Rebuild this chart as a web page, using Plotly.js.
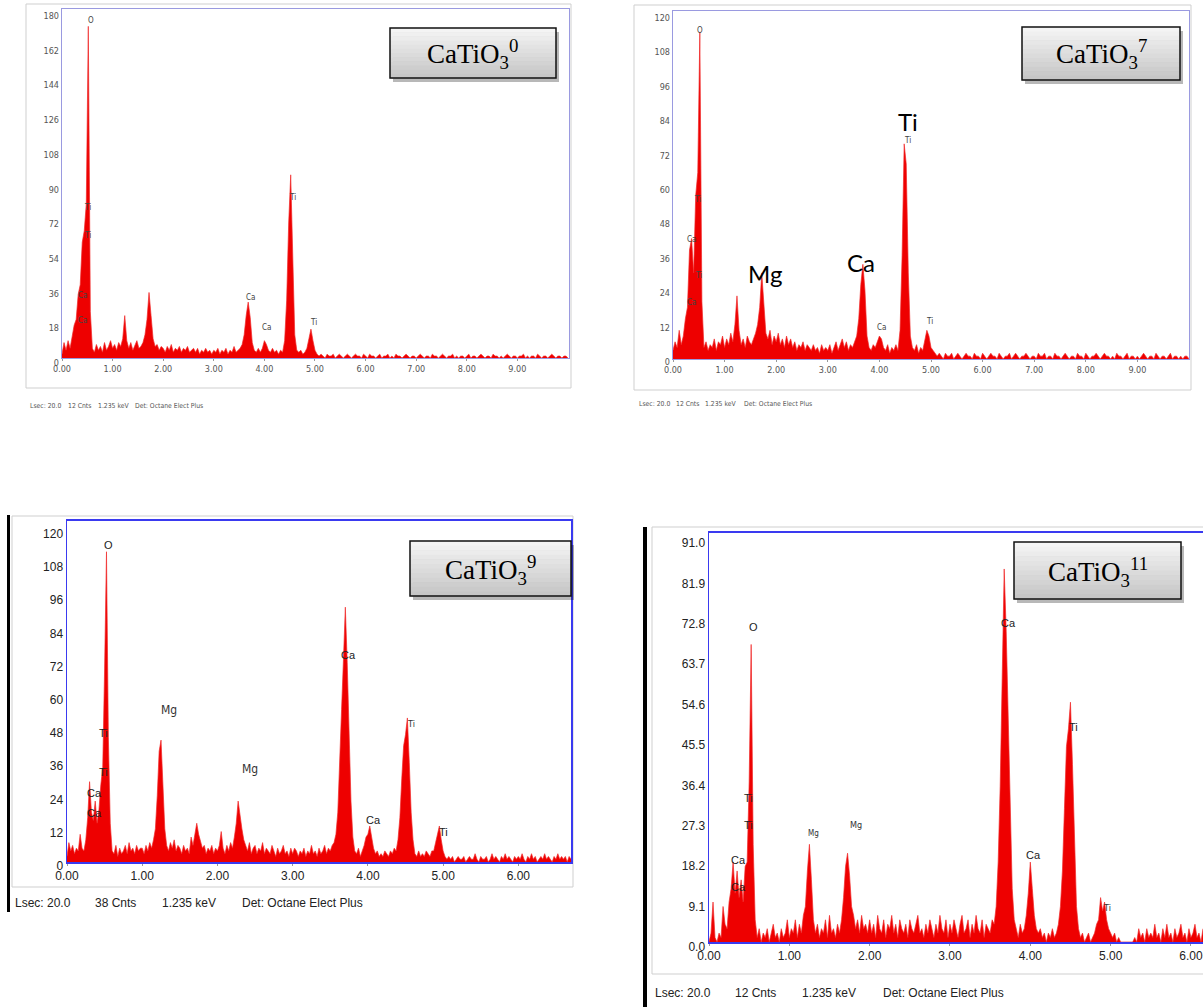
<!DOCTYPE html>
<html><head><meta charset="utf-8">
<script src="https://cdn.plot.ly/plotly-3.0.1.min.js"></script>
<style>html,body{margin:0;padding:0;background:#fff;}#chart{width:1203px;height:1007px;}</style>
</head><body><div id="chart"></div>
<script>
// ---------------- DATA (counts) ----------------
const binTop = 0.04;      // keV per channel, top spectra
const binBottom = 0.025;  // keV per channel, bottom spectra

const counts0 = [
 2,8,4,9,5,11,17,20,33,38,60,66,80,172,24,5,3,7,4,6,3,8,4,6,9,
 5,7,4,8,6,10,22,9,5,8,4,7,9,5,6,8,12,20,34,22,10,6,7,4,6,
 5,3,6,4,7,3,5,4,6,3,5,4,6,3,4,5,3,5,2,4,3,5,3,4,2,
 4,3,5,2,4,3,5,2,4,3,6,3,4,5,7,12,22,29,21,8,4,3,5,3,5,
 9,7,4,3,5,3,4,2,4,3,9,30,70,95,55,12,4,3,4,2,3,5,10,15,9,
 4,2,1,2,1,0,2,1,1,2,0,1,2,1,0,1,2,1,0,1,2,1,1,0,2,
 1,0,2,1,1,0,1,2,0,1,1,2,0,1,0,2,1,1,0,1,2,1,0,1,1,
 0,1,2,1,0,1,1,0,2,1,1,0,1,2,1,0,1,1,2,0,1,0,1,1,0,
 1,2,0,1,1,0,1,2,1,0,1,1,0,2,1,1,0,1,0,1,2,1,0,1,1,
 0,1,1,2,0,1,0,1,1,0,2,1,0,1,1,0,1,2,1,0,1,1,0,1,1,0
];
const counts7 = [
 3,6,4,10,5,8,14,18,38,42,30,57,65,114,20,4,6,3,5,4,7,3,6,5,8,
 4,7,5,9,6,12,22,10,5,7,4,8,6,5,7,9,12,18,30,20,9,7,10,5,8,
 6,9,5,7,4,8,5,7,4,6,3,5,4,6,3,5,4,3,5,3,4,2,5,3,4,
 3,5,2,4,6,3,5,7,4,6,3,5,4,6,8,14,26,33,24,8,4,3,5,4,6,
 8,7,4,3,5,2,4,3,5,3,10,36,75,68,30,8,4,3,5,2,4,3,6,10,8,
 4,3,2,1,2,1,0,2,1,1,2,0,1,2,1,0,1,2,1,1,0,2,1,1,0,
 2,1,0,1,2,1,1,0,2,1,0,1,1,2,0,1,2,1,0,1,1,2,1,0,1,
 1,0,2,1,1,2,0,1,1,0,2,1,1,0,1,2,1,0,1,1,0,2,1,1,0,
 2,1,0,1,1,2,1,0,1,2,1,1,0,1,0,2,1,1,0,1,2,0,1,1,0,
 1,0,1,2,1,0,1,1,0,2,1,0,1,1,0,1,2,0,1,1,0,1,0,1,1,0
];
const counts9 = [
 2,7,4,6,3,5,4,10,5,4, 8,16,29,18,15,22,14,19,28,34, 70,112,45,14,4,3,6,2,5,3, 4,6,3,7,4,5,3,6,4,5,
 5,3,6,4,7,5,8,12,24,40, 44,28,12,6,4,7,5,8,4,6, 5,3,6,4,5,3,9,6,11,14, 10,7,5,6,3,5,4,6,3,5,
 4,6,11,5,3,6,4,7,5,9, 14,22,16,12,8,6,4,7,3,5, 6,3,5,4,7,3,5,4,3,6, 4,2,5,3,4,6,3,4,2,5,
 3,5,4,2,4,3,5,2,4,3, 6,3,4,2,5,3,4,6,3,5, 4,6,7,10,18,34,55,73,92,72, 45,22,9,4,3,5,2,4,6,9,
 10,13,9,5,3,4,2,3,2,4, 3,2,4,3,5,4,8,16,30,42, 46,52,36,18,8,3,2,4,2,3, 2,4,3,2,4,4,7,10,13,8,
 4,2,1,2,1,2,0,1,2,1, 1,2,0,1,2,1,1,3,1,0, 2,1,1,2,0,1,3,1,2,1, 0,2,1,3,1,2,1,0,2,1,
 2,1,3,1,0,2,1,3,1,2, 0,1,2,1,3,1,2,1,0,2, 1,3,1,2,1,2,0,2,1
];
const counts11 = [
 0,2,9,1,0,2,1,8,4,3, 9,12,18,11,16,10,14,9,17,18, 36,67,22,5,1,3,0,2,1,3, 0,2,4,1,2,0,3,1,2,5,
 1,3,2,5,1,4,2,6,8,16, 22,14,5,2,4,1,3,2,5,1, 6,2,3,1,4,2,5,10,17,20, 15,8,6,3,5,2,6,3,4,2,
 5,2,4,1,6,3,2,5,1,4, 3,6,2,4,1,5,3,2,4,1, 5,3,2,4,6,2,3,1,4,2, 5,3,1,4,2,6,3,2,5,1,
 4,2,5,3,1,4,6,2,3,5, 1,4,2,6,3,2,5,1,4,3, 2,5,4,8,18,35,58,84,70,52, 30,12,5,3,1,4,2,3,6,11,
 18,12,6,3,2,3,1,2,0,2, 1,3,1,2,4,8,16,30,44,48, 54,40,22,8,3,1,2,0,1,2, 0,1,2,4,5,10,7,9,5,3,
 2,1,2,0,1,0,0,0,0,0, 0,0,1,0,3,1,2,0,3,1, 2,1,4,1,2,0,3,1,4,1, 2,0,3,1,2,4,1,2,0,3,
 1,2,4,1,2,0,3
];

const xTicksTop = [0,1,2,3,4,5,6,7,8,9];
const xTickTextTop = ['0.00','1.00','2.00','3.00','4.00','5.00','6.00','7.00','8.00','9.00'];
const xTicksBottom = [0,1,2,3,4,5,6];
const xTickTextBottom = ['0.00','1.00','2.00','3.00','4.00','5.00','6.00'];
const yTicks0 = [0,18,36,54,72,90,108,126,144,162,180];
const yTicks7 = [0,12,24,36,48,60,72,84,96,108,120];
const yTicks9 = [0,12,24,36,48,60,72,84,96,108,120];
const yTicks11 = [0,9.1,18.2,27.3,36.4,45.5,54.6,63.7,72.8,81.9,91.0];
const yTickText11 = ['0.0','9.1','18.2','27.3','36.4','45.5','54.6','63.7','72.8','81.9','91.0'];
const sampleSup = ['0','7','9','11'];
const footerCnts = ['12 Cnts','12 Cnts','38 Cnts','12 Cnts'];

// ---------------- LAYOUT HELPERS ----------------
const W = 1203, H = 1007;
const fx = x => x / W;
const fy = y => 1 - y / H;
const energies = (arr, step) => arr.map((_, i) => +(i * step).toFixed(3));

const red = 'rgb(238,0,0)';
function trace(counts, step, xa, ya) {
  return {x: energies(counts, step), y: counts, xaxis: xa, yaxis: ya, type: 'scatter', mode: 'lines',
    fill: 'tozeroy', fillcolor: red, line: {color: 'rgba(240,40,40,0.85)', width: 0.8}, hoverinfo: 'skip'};
}
const data = [
  trace(counts0, binTop, 'x', 'y'),
  trace(counts7, binTop, 'x2', 'y2'),
  trace(counts9, binBottom, 'x3', 'y3'),
  trace(counts11, binBottom, 'x4', 'y4')
];

const smallFont = {family: 'Liberation Sans Narrow, DejaVu Sans Condensed, sans-serif', size: 9, color: '#555'};
const bigFont = {family: 'Liberation Sans, Arial, sans-serif', size: 12, color: '#222'};
const topLine = '#9a9ae0', botLine = '#3a3af0';

function xax(domain, range, vals, text, font, lc, lw) {
  return {domain, range, tickvals: vals, ticktext: text, tickfont: font, showgrid: false, zeroline: false,
    showline: true, mirror: true, linecolor: lc, linewidth: lw, ticks: 'outside', ticklen: 2, tickcolor: '#999', fixedrange: true};
}
function yax(domain, range, vals, text, font, lc, lw, shift) {
  return {domain, range, tickvals: vals, ticktext: text, tickfont: font, showgrid: false, zeroline: false,
    showline: true, mirror: true, linecolor: lc, linewidth: lw, ticks: '', ticklabelshift: shift, fixedrange: true};
}

const layout = {
  width: W, height: H, margin: {l: 0, r: 0, t: 0, b: 0}, showlegend: false,
  paper_bgcolor: '#fff', plot_bgcolor: '#fff',
  xaxis: Object.assign(xax([fx(62), fx(569)], [0, 10.02], xTicksTop, xTickTextTop, smallFont, topLine, 1.2), {anchor: 'y'}),
  yaxis: Object.assign(yax([fy(358), fy(9)], [0, 181], yTicks0, yTicks0.map(String), smallFont, topLine, 1.2, 5), {anchor: 'x'}),
  xaxis2: Object.assign(xax([fx(673), fx(1189)], [0, 10.0], xTicksTop, xTickTextTop, smallFont, topLine, 1.2), {anchor: 'y2'}),
  yaxis2: Object.assign(yax([fy(359), fy(11)], [0, 121.3], yTicks7, yTicks7.map(String), smallFont, topLine, 1.2, 3), {anchor: 'x2'}),
  xaxis3: Object.assign(xax([fx(67), fx(571)], [0, 6.70], xTicksBottom, xTickTextBottom, bigFont, botLine, 2), {anchor: 'y3'}),
  yaxis3: Object.assign(yax([fy(862), fy(521)], [0, 123.1], yTicks9, yTicks9.map(String), bigFont, botLine, 1.5, 4), {anchor: 'x3'}),
  xaxis4: Object.assign(xax([fx(709), 1], [0, 6.15], xTicksBottom, xTickTextBottom, bigFont, botLine, 2), {anchor: 'y4'}),
  yaxis4: Object.assign(yax([fy(942), fy(533)], [0, 92.1], yTicks11, yTickText11, bigFont, botLine, 1.5, 5), {anchor: 'x4'}),
  shapes: [], annotations: []
};

function rect(x0, y0, x1, y1, fill, line, lw, layer) {
  return {type: 'rect', xref: 'paper', yref: 'paper', x0: fx(x0), x1: fx(x1), y0: fy(y1), y1: fy(y0),
    fillcolor: fill, line: {color: line, width: lw}, layer: layer || 'above'};
}
function note(text, x, y, font, anchor) {
  return {text, xref: 'paper', yref: 'paper', x: fx(x), y: fy(y), xanchor: anchor || 'center', yanchor: 'middle',
    showarrow: false, font};
}

// window frames
[[26,4,571,388],[634,5,1191,390],[12,516,573,887],[652,527,1210,974]].forEach(f =>
  layout.shapes.push(rect(f[0], f[1], f[2], f[3], 'rgba(0,0,0,0)', '#cfcfcf', 1, 'below')));
// black side bars
layout.shapes.push(rect(7, 515, 10, 912, '#000', '#000', 0));
layout.shapes.push(rect(643, 527, 647, 1007, '#000', '#000', 0));

// sample label boxes
const boxes = [[390,28,556,78],[1022,27,1180,80],[410,541,571,596],[1014,542,1181,599]];
boxes.forEach((b, k) => {
  layout.shapes.push(rect(b[0] + 3, b[1] + 4, b[2] + 3, b[3] + 4, 'rgba(0,0,0,0.28)', 'rgba(0,0,0,0)', 0));
  const n = 12, h = (b[3] - b[1]) / n;
  for (let i = 0; i < n; i++) {
    const g = Math.round(244 - i * 46 / (n - 1));
    layout.shapes.push(rect(b[0], b[1] + i * h, b[2], b[1] + (i + 1) * h + 0.5, `rgb(${g},${g},${g})`, 'rgba(0,0,0,0)', 0));
  }
  layout.shapes.push(rect(b[0], b[1], b[2], b[3], 'rgba(0,0,0,0)', '#111', 1.5));
  layout.annotations.push(note('CaTiO<sub>3</sub><sup>' + sampleSup[k] + '</sup>', (b[0] + b[2]) / 2, (b[1] + b[3]) / 2 + 1,
    {family: 'Liberation Serif, Times New Roman, serif', size: 27, color: '#000'}));
});

// footers
const footPos = [[406, [28, 66, 96, 133], 6.8], [404, [637, 674, 703, 742], 6.8], [903, [13, 93, 160, 240], 12], [993, [653, 733, 800, 881], 12]];
footPos.forEach((f, k) => {
  const font = k < 2 ? {family: smallFont.family, size: f[2], color: '#555'} : {family: bigFont.family, size: f[2], color: '#222'};
  const texts = ['Lsec: 20.0', footerCnts[k], '1.235 keV', 'Det: Octane Elect Plus'];
  texts.forEach((t, i) => layout.annotations.push(note(t, f[1][i], f[0], font, 'left')));
});

// element labels
const elSmallTop = {family: smallFont.family, size: 8, color: '#444'};
const elBot = {family: 'Liberation Sans, Arial, sans-serif', size: 11, color: '#222'};
const elBotN = {family: smallFont.family, size: 12, color: '#333'};
const elBotS = {family: smallFont.family, size: 9, color: '#333'};
const elLabels = [
  ['O',91,20,elSmallTop],['Ti',87,208,elSmallTop],['Ti',87,235,elSmallTop],['Ca',82,295,elSmallTop],['Ca',82,320,elSmallTop],
  ['Ca',250,297,elSmallTop],['Ca',266,327,elSmallTop],['Ti',292,197,elSmallTop],['Ti',313,323,elSmallTop],
  ['O',700,30,elSmallTop],['Ti',697,200,elSmallTop],['Ca',691,240,elSmallTop],['Ti',698,275,elSmallTop],['Ca',691,303,elSmallTop],
  ['Ti',907,140,elSmallTop],['Ca',881,327,elSmallTop],['Ti',929,322,elSmallTop],
  ['O',108,545,elBot],['Ti',103,733,elBot],['Ti',103,772,elBot],['Ca',94,793,elBot],['Ca',94,813,elBot],
  ['Mg',169,710,elBotN],['Mg',250,769,elBotN],['Ca',348,655,elBot],['Ca',373,820,elBot],['Ti',411,724,elBotS],['Ti',443,832,elBot],
  ['O',753,627,elBot],['Ti',748,798,elBot],['Ti',748,825,elBot],['Ca',738,860,elBot],['Ca',738,887,elBot],
  ['Mg',813,833,{family: smallFont.family, size: 8, color: '#333'}],['Mg',856,825,elBotS],
  ['Ca',1008,623,elBot],['Ca',1033,855,elBot],['Ti',1073,727,elBot],['Ti',1107,908,elBotS]
];
elLabels.forEach(l => layout.annotations.push(note(l[0], l[1], l[2], l[3])));
const bigLbl = {family: 'Lato, Open Sans, sans-serif', size: 24, color: '#000'};
[['Ti',908,121],['Ca',861,262],['Mg',765,273]].forEach(l => layout.annotations.push(note(l[0], l[1], l[2], bigLbl)));

Plotly.newPlot('chart', data, layout, {displayModeBar: false, staticPlot: true});
</script></body></html>
